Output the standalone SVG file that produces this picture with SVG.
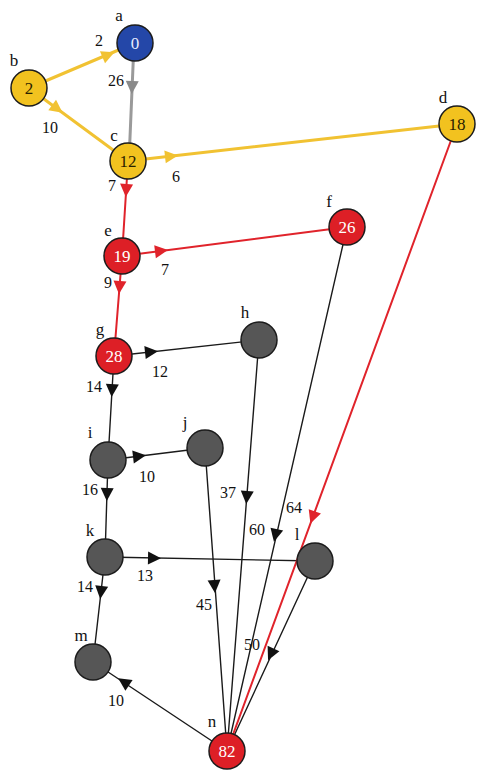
<svg xmlns="http://www.w3.org/2000/svg" xmlns:xlink="http://www.w3.org/1999/xlink" width="477" height="771" viewBox="0 0 477 771">
  <style>
    text { font-family: "Liberation Serif", "Times New Roman", serif; text-anchor: middle; }
    .name { font-size: 17px; fill: #111; }
    .wt { font-size: 16px; fill: #111; }
    .val { font-size: 17px; }
    .node circle { stroke: #1c1c1c; stroke-width: 1.5; }
    .blue circle { fill: #2447a8; }
    .blue .val { fill: #e8ecff; }
    .gold circle { fill: #f2c21f; }
    .gold .val { fill: #2a2200; }
    .red circle { fill: #dd1f26; }
    .red .val { fill: #ffffff; }
    .grey circle { fill: #565656; }
    line { fill: none; stroke-linecap: round; }
    .ey { stroke: #f1c232; stroke-width: 3; }
    .eg { stroke: #9a9a9a; stroke-width: 3; }
    .er { stroke: #e0232b; stroke-width: 2; }
    .ek { stroke: #1a1a1a; stroke-width: 1.4; }
    .ay { fill: #f1c232; }
    .ag { fill: #8a8a8a; }
    .ar { fill: #e0232b; }
    .ak { fill: #111; }
  </style>
  <defs>
    <path id="head" d="M7,0 L-6,-6.5 L-6,6.5 Z"/>
  </defs>

  <g id="connectors">
    <!-- lines, centre to centre, drawn beneath the nodes -->
    <line class="ey" x1="29" y1="88" x2="135" y2="43"/>
    <line class="eg" x1="134" y1="43" x2="129" y2="161"/>
    <line class="ey" x1="29" y1="88" x2="128" y2="161"/>
    <line class="ey" x1="128" y1="161" x2="457" y2="124"/>
    <line class="er" x1="128" y1="161" x2="122" y2="256"/>
    <line class="er" x1="122" y1="256" x2="347" y2="227"/>
    <line class="er" x1="122" y1="256" x2="114" y2="356"/>
    <line class="ek" x1="114" y1="356" x2="259" y2="340"/>
    <line class="ek" x1="114" y1="356" x2="108" y2="460"/>
    <line class="ek" x1="108" y1="460" x2="205" y2="448"/>
    <line class="ek" x1="108" y1="460" x2="105" y2="557"/>
    <line class="ek" x1="105" y1="557" x2="315" y2="561"/>
    <line class="ek" x1="105" y1="557" x2="93" y2="662"/>
    <line class="ek" x1="259" y1="340" x2="227" y2="751"/>
    <line class="ek" x1="347" y1="227" x2="227" y2="751"/>
    <line class="ek" x1="205" y1="448" x2="227" y2="751"/>
    <line class="ek" x1="315" y1="561" x2="227" y2="751"/>
    <line class="ek" x1="93" y1="662" x2="227" y2="751"/>
    <line class="er" x1="457" y1="124" x2="227" y2="751"/>

    <!-- arrowheads -->
    <use xlink:href="#head" class="ay" transform="translate(108,55) rotate(-23)"/>
    <use xlink:href="#head" class="ag" transform="translate(132,87) rotate(92.4)"/>
    <use xlink:href="#head" class="ay" transform="translate(57,108.6) rotate(36.4)"/>
    <use xlink:href="#head" class="ay" transform="translate(171,156.2) rotate(-6.4)"/>
    <use xlink:href="#head" class="ar" transform="translate(126.2,190) rotate(93.6)"/>
    <use xlink:href="#head" class="ar" transform="translate(161,251) rotate(-7.3)"/>
    <use xlink:href="#head" class="ar" transform="translate(119.5,287) rotate(94.6)"/>
    <use xlink:href="#head" class="ak" transform="translate(151,351.9) rotate(-6.3)"/>
    <use xlink:href="#head" class="ak" transform="translate(112,390) rotate(93.3)"/>
    <use xlink:href="#head" class="ak" transform="translate(139,456.2) rotate(-7)"/>
    <use xlink:href="#head" class="ak" transform="translate(107,494) rotate(91.8)"/>
    <use xlink:href="#head" class="ak" transform="translate(154,558) rotate(1.1)"/>
    <use xlink:href="#head" class="ak" transform="translate(101,592) rotate(96.5)"/>
    <use xlink:href="#head" class="ak" transform="translate(246.8,497) rotate(94.5)"/>
    <use xlink:href="#head" class="ak" transform="translate(275.5,535) rotate(102.9)"/>
    <use xlink:href="#head" class="ar" transform="translate(312.8,517) rotate(110.1)"/>
    <use xlink:href="#head" class="ak" transform="translate(214.5,586) rotate(85.9)"/>
    <use xlink:href="#head" class="ak" transform="translate(271,654) rotate(114.8)"/>
    <use xlink:href="#head" class="ak" transform="translate(124,682) rotate(213.6)"/>

    <!-- weights -->
    <text class="wt" x="99" y="46">2</text>
    <text class="wt" x="116" y="86">26</text>
    <text class="wt" x="50" y="133">10</text>
    <text class="wt" x="176" y="182">6</text>
    <text class="wt" x="112" y="191">7</text>
    <text class="wt" x="165" y="275">7</text>
    <text class="wt" x="108" y="288">9</text>
    <text class="wt" x="160" y="377">12</text>
    <text class="wt" x="94" y="392">14</text>
    <text class="wt" x="147" y="482">10</text>
    <text class="wt" x="90" y="495">16</text>
    <text class="wt" x="228" y="498">37</text>
    <text class="wt" x="294" y="513">64</text>
    <text class="wt" x="257" y="535">60</text>
    <text class="wt" x="145" y="581">13</text>
    <text class="wt" x="85" y="592">14</text>
    <text class="wt" x="204" y="610">45</text>
    <text class="wt" x="252" y="650">50</text>
    <text class="wt" x="116" y="706">10</text>
  </g>

  <g id="node-a" class="node blue">
    <circle cx="135" cy="43" r="18"/>
    <text class="val" x="135" y="49">0</text>
    <text class="name" x="119" y="21">a</text>
  </g>
  <g id="node-b" class="node gold">
    <circle cx="29" cy="88" r="18"/>
    <text class="val" x="29" y="94">2</text>
    <text class="name" x="14" y="66">b</text>
  </g>
  <g id="node-c" class="node gold">
    <circle cx="128" cy="161" r="18"/>
    <text class="val" x="128" y="167">12</text>
    <text class="name" x="114" y="141">c</text>
  </g>
  <g id="node-d" class="node gold">
    <circle cx="457" cy="124" r="18"/>
    <text class="val" x="457" y="130">18</text>
    <text class="name" x="443" y="103">d</text>
  </g>
  <g id="node-e" class="node red">
    <circle cx="122" cy="256" r="18"/>
    <text class="val" x="122" y="262">19</text>
    <text class="name" x="108" y="236">e</text>
  </g>
  <g id="node-f" class="node red">
    <circle cx="347" cy="227" r="18"/>
    <text class="val" x="347" y="233">26</text>
    <text class="name" x="329" y="207">f</text>
  </g>
  <g id="node-g" class="node red">
    <circle cx="114" cy="356" r="18"/>
    <text class="val" x="114" y="362">28</text>
    <text class="name" x="100" y="335">g</text>
  </g>
  <g id="node-h" class="node grey">
    <circle cx="259" cy="340" r="18"/>
    <text class="name" x="245" y="318">h</text>
  </g>
  <g id="node-i" class="node grey">
    <circle cx="108" cy="460" r="18"/>
    <text class="name" x="90" y="438">i</text>
  </g>
  <g id="node-j" class="node grey">
    <circle cx="205" cy="448" r="18"/>
    <text class="name" x="185" y="428">j</text>
  </g>
  <g id="node-k" class="node grey">
    <circle cx="105" cy="557" r="18"/>
    <text class="name" x="90" y="536">k</text>
  </g>
  <g id="node-l" class="node grey">
    <circle cx="315" cy="561" r="18"/>
    <text class="name" x="297" y="540">l</text>
  </g>
  <g id="node-m" class="node grey">
    <circle cx="93" cy="662" r="18"/>
    <text class="name" x="81" y="641">m</text>
  </g>
  <g id="node-n" class="node red">
    <circle cx="227" cy="751" r="18"/>
    <text class="val" x="227" y="757">82</text>
    <text class="name" x="212" y="727">n</text>
  </g>
</svg>
